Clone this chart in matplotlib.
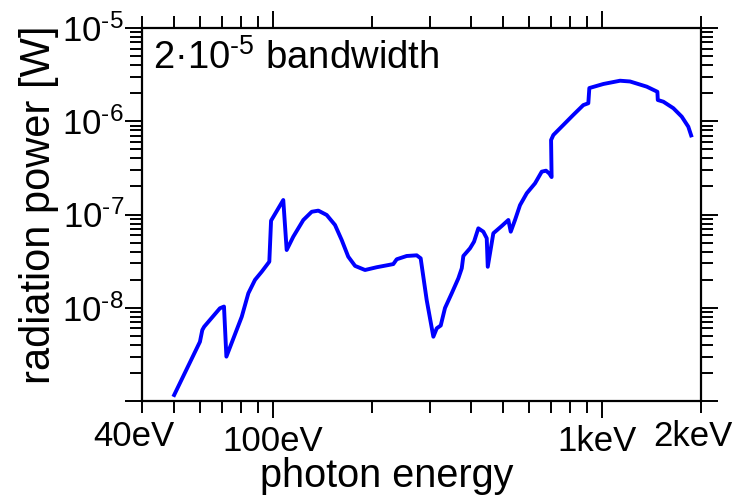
import numpy as np
import matplotlib
matplotlib.use("Agg")
import matplotlib.pyplot as plt
import matplotlib.transforms as mtransforms
from matplotlib.ticker import FixedLocator, FixedFormatter, LogLocator, NullFormatter

# spectrum (photon energy in eV, power in W)
energy = [49.8, 60.0, 61.0, 61.8, 69.0, 71.0, 72.2,
          80.4, 84.2, 88.2, 92.5, 97.5, 98.7, 107.5, 110.1,
          115.3, 123.7, 131.2, 137.4, 145.7, 154.4, 161.8, 169.4,
          177.7, 190.5, 206.8, 224.2, 232.2, 237.8, 255.0, 273.5,
          281.2, 293.3, 307.3, 314.7, 323.6, 333.4, 349.5, 366.1,
          374.9, 379.1, 397.2, 408.5, 421.0, 436.0, 446.5, 449.7,
          467.6, 496.0, 519.4, 528.2, 544.2, 563.6, 590.8, 626.1,
          656.2, 676.1, 691.9, 703.0, 700.4, 711.7, 763.1, 818.4,
          877.7, 909.0, 915.5, 1010, 1135, 1217, 1368, 1474,
          1478, 1537, 1648, 1748, 1830, 1875]
power = [1.11e-9, 4.32e-9, 5.77e-9, 6.26e-9, 9.87e-9, 1.03e-8, 2.99e-9,
         8.02e-9, 1.43e-8, 1.99e-8, 2.44e-8, 3.12e-8, 8.58e-8, 1.43e-7, 4.16e-8,
         5.78e-8, 8.73e-8, 1.07e-7, 1.10e-7, 9.88e-8, 7.72e-8, 5.33e-8, 3.53e-8,
         2.81e-8, 2.54e-8, 2.72e-8, 2.87e-8, 2.94e-8, 3.31e-8, 3.59e-8, 3.65e-8,
         3.39e-8, 1.21e-8, 4.89e-9, 6.02e-9, 6.45e-9, 9.94e-9, 1.43e-8, 2.07e-8,
         2.65e-8, 3.59e-8, 4.34e-8, 5.11e-8, 7.11e-8, 6.54e-8, 5.56e-8, 2.75e-8,
         6.29e-8, 7.53e-8, 8.73e-8, 6.54e-8, 8.73e-8, 1.26e-7, 1.69e-7, 2.16e-7,
         2.88e-7, 2.95e-7, 2.75e-7, 2.52e-7, 6.29e-7, 7.12e-7, 9.12e-7, 1.17e-6,
         1.49e-6, 1.56e-6, 2.27e-6, 2.51e-6, 2.72e-6, 2.67e-6, 2.35e-6, 2.07e-6,
         1.69e-6, 1.62e-6, 1.38e-6, 1.12e-6, 8.74e-7, 6.73e-7]

x_major = [100, 1000]
x_major_labels = ["100eV", "1keV"]
x_minor = [40, 50, 60, 70, 80, 90, 200, 300, 400, 500, 600, 700, 800, 900, 2000]
x_minor_labels = ["40eV", "", "", "", "", "", "", "", "", "", "", "", "", "", "2keV"]
y_major = [1e-9, 1e-8, 1e-7, 1e-6, 1e-5]
y_major_labels = ["", r"$10^{\text{-}8}$", r"$10^{\text{-}7}$", r"$10^{\text{-}6}$", r"$10^{\text{-}5}$"]

plt.rcParams["font.family"] = ["Liberation Sans", "DejaVu Sans"]
plt.rcParams["mathtext.fontset"] = "custom"
plt.rcParams["mathtext.rm"] = "Liberation Sans"
plt.rcParams["mathtext.it"] = "Liberation Sans:italic"
plt.rcParams["mathtext.bf"] = "Liberation Sans:bold"

fig = plt.figure(figsize=(7.5, 4.97), dpi=100)
ax = fig.add_axes([142 / 750, 1 - 401 / 497, 559 / 750, 373 / 497])

ax.plot(energy, power, color="#0000ff", lw=2.8, solid_joinstyle="round",
        solid_capstyle="butt")

ax.set_xscale("log")
ax.set_yscale("log")
ax.set_xlim(40, 2000)
ax.set_ylim(1e-9, 1e-5)

ax.xaxis.set_major_locator(FixedLocator(x_major))
ax.xaxis.set_major_formatter(FixedFormatter(x_major_labels))
ax.xaxis.set_minor_locator(FixedLocator(x_minor))
ax.xaxis.set_minor_formatter(FixedFormatter(x_minor_labels))
ax.yaxis.set_major_locator(FixedLocator(y_major))
ax.yaxis.set_major_formatter(FixedFormatter(y_major_labels))
ax.yaxis.set_minor_locator(LogLocator(base=10, subs=np.arange(2, 10), numticks=50))
ax.yaxis.set_minor_formatter(NullFormatter())

for s in ax.spines.values():
    s.set_linewidth(1.6)

ax.tick_params(which="both", direction="out", width=1.4, labelsize=25,
               top=True, right=True, colors="black")
ax.tick_params(which="major", length=12)
ax.tick_params(which="minor", length=8.5)
ax.tick_params(axis="x", which="both", pad=5)
ax.tick_params(axis="y", which="both", pad=1)

ax.set_xlabel("photon energy", fontsize=28.5, va="baseline")
ax.xaxis.set_label_coords((386.5 - 142) / 559, (401 - 487) / 373)
ax.set_ylabel("radiation power [W]", fontsize=30, va="baseline")
ax.yaxis.set_label_coords((50 - 142) / 559, (401 - 204.5) / 373)

ax.text(0.0197, 0.89, r"2·10$^{\text{-}5}$ bandwidth", transform=ax.transAxes,
        fontsize=27.5, va="baseline", ha="left")

# the tick labels sit a bit left of their ticks in the original
fig.canvas.draw()
shift = {"40eV": -8, "1keV": -5, "2keV": -8}
for tick in ax.xaxis.get_major_ticks() + ax.xaxis.get_minor_ticks():
    lab = tick.label1
    dx = shift.get(lab.get_text(), 0)
    if dx:
        lab.set_transform(lab.get_transform() +
                          mtransforms.ScaledTranslation(dx / 100, 0, fig.dpi_scale_trans))

fig.savefig("out.png", dpi=100)
